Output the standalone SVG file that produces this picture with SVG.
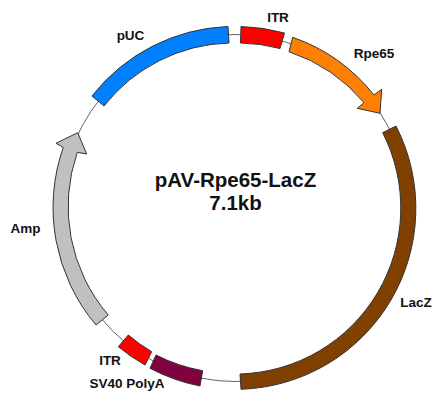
<svg xmlns="http://www.w3.org/2000/svg" width="442" height="402" viewBox="0 0 442 402">
<style>
text{font-family:"Liberation Sans",Arial,sans-serif;font-weight:bold;fill:#111;text-anchor:middle}
.l{font-size:13.500px}
.t{font-size:20.500px}
.s{stroke:#333;stroke-width:1;stroke-linejoin:miter}
</style>
<rect width="442" height="402" fill="#fff"/>
<g id="connectors"><circle cx="235" cy="208" r="173.5" fill="none" stroke="#666" stroke-width="1"/></g>
<g id="pUC"><path class="s" fill="#0080ff" d="M92,96 A182,182 0 0 1 228,26.5 L229,43 A165,165 0 0 0 104,106 Z"/><text class="l" x="130.500" y="40">pUC</text></g>
<g id="ITR1"><path class="s" fill="#ff0000" d="M241,26.500 A182,182 0 0 1 284.500,33 L280,48.500 A165,165 0 0 0 240.500,43 Z"/><text class="l" x="278" y="22">ITR</text></g>
<g id="Rpe65"><path class="s" fill="#ff8000" d="M292.700,37.300 A180,180 0 0 1 374,95 L381.700,89.300 L380,113.300 L357.300,108.300 L364,102.700 A166,166 0 0 0 289,51.700 Z"/><text class="l" x="374" y="58">Rpe65</text></g>
<g id="LacZ"><path class="s" fill="#804000" d="M396,126 A181,181 0 0 1 241,389.300 L240,374 A166,166 0 0 0 382.700,132.700 Z"/><text class="l" x="416" y="307">LacZ</text></g>
<g id="SV40PolyA"><path class="s" fill="#800040" d="M156,355 A166,166 0 0 0 202.700,370.700 L200,386 A181,181 0 0 1 150,368.300 Z"/><text class="l" x="127" y="388">SV40 PolyA</text></g>
<g id="ITR2"><path class="s" fill="#ff0000" d="M128.300,335 A166,166 0 0 0 151.700,351.700 L145,365 A181,181 0 0 1 118.300,346.700 Z"/><text class="l" x="110" y="364.500">ITR</text></g>
<g id="Amp"><path class="s" fill="#c0c0c0" d="M96,325 A182,182 0 0 1 63.300,147.300 L56,143.300 L77.700,132.700 L86.700,154 L77.300,152.300 A166,166 0 0 0 108.300,315 Z"/><text class="l" x="25.500" y="232.500">Amp</text></g>
<g id="title"><text class="t" x="235.500" y="187">pAV-Rpe65-LacZ</text><text class="t" x="235.500" y="210">7.1kb</text></g>
</svg>
